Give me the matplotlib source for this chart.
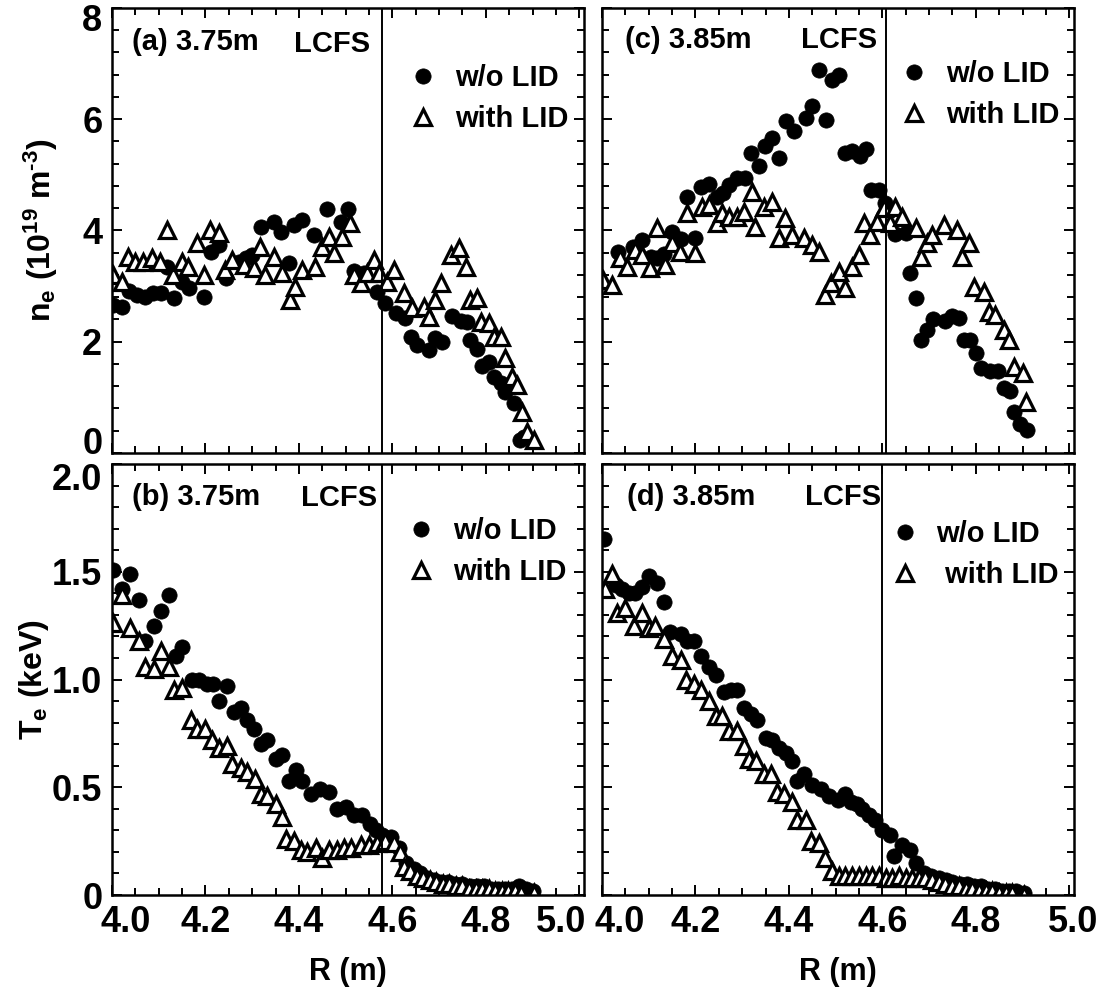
import numpy as np
import matplotlib.pyplot as plt
from matplotlib.lines import Line2D
from matplotlib.transforms import ScaledTranslation

plt.rcParams['font.family'] = ['Liberation Sans', 'DejaVu Sans']
plt.rcParams['font.weight'] = 'bold'
plt.rcParams['axes.labelweight'] = 'bold'
plt.rcParams['mathtext.fontset'] = 'custom'
plt.rcParams['mathtext.rm'] = 'Liberation Sans:bold'
plt.rcParams['mathtext.it'] = 'Liberation Sans:bold'
plt.rcParams['mathtext.bf'] = 'Liberation Sans:bold'
plt.rcParams['mathtext.default'] = 'bf'

# ---- (a) ne, Rax = 3.75 m ----
a_wo_r = [4.003, 4.021, 4.036, 4.054, 4.071, 4.088, 4.104, 4.118, 4.132, 4.150, 4.164, 4.196,
          4.211, 4.229, 4.243, 4.272, 4.286, 4.300, 4.318, 4.347, 4.361, 4.379, 4.389, 4.407,
          4.432, 4.461, 4.489, 4.505, 4.517, 4.539, 4.567, 4.585, 4.608, 4.627, 4.640, 4.653,
          4.678, 4.692, 4.707, 4.728, 4.746, 4.760, 4.767, 4.782, 4.792, 4.807, 4.818, 4.832,
          4.842, 4.860, 4.872, 4.882]
a_wo_ne = [2.66, 2.63, 2.92, 2.84, 2.81, 2.87, 2.87, 3.35, 2.78, 3.08, 2.96, 2.81,
           3.62, 3.74, 3.15, 3.43, 3.50, 3.56, 4.07, 4.16, 3.98, 3.41, 4.10, 4.18,
           3.92, 4.38, 4.16, 4.38, 3.27, 3.23, 2.90, 2.69, 2.51, 2.42, 2.08, 1.94,
           1.85, 2.06, 2.00, 2.46, 2.38, 2.36, 2.03, 1.87, 1.56, 1.64, 1.37, 1.25,
           1.10, 0.89, 0.24, 0.29]
a_lid_r = [4.003, 4.021, 4.035, 4.050, 4.067, 4.085, 4.103, 4.117, 4.131, 4.149, 4.163, 4.181,
           4.196, 4.210, 4.228, 4.242, 4.256, 4.282, 4.303, 4.317, 4.328, 4.346, 4.364, 4.381,
           4.392, 4.407, 4.435, 4.450, 4.464, 4.475, 4.492, 4.510, 4.517, 4.532, 4.546, 4.560,
           4.571, 4.589, 4.603, 4.625, 4.642, 4.667, 4.678, 4.692, 4.703, 4.725, 4.742, 4.757,
           4.767, 4.782, 4.789, 4.807, 4.818, 4.832, 4.842, 4.856, 4.867, 4.878, 4.889, 4.903]
a_lid_ne = [3.20, 3.08, 3.53, 3.44, 3.44, 3.50, 3.44, 4.01, 3.20, 3.44, 3.35, 3.77,
            3.20, 4.01, 3.95, 3.29, 3.47, 3.38, 3.32, 3.71, 3.20, 3.53, 3.23, 2.75,
            2.99, 3.29, 3.35, 3.71, 3.89, 3.59, 3.89, 4.13, 3.20, 3.05, 3.23, 3.47,
            3.23, 3.08, 3.29, 2.87, 2.60, 2.63, 2.45, 2.75, 3.05, 3.56, 3.68, 3.35,
            2.75, 2.78, 2.36, 2.33, 2.09, 2.09, 1.70, 1.37, 1.22, 0.74, 0.38, 0.23]

# ---- (c) ne, Rax = 3.85 m ----
c_wo_r = [4.035, 4.067, 4.085, 4.104, 4.117, 4.132, 4.150, 4.168, 4.182, 4.199, 4.211, 4.229,
          4.247, 4.258, 4.271, 4.289, 4.306, 4.319, 4.336, 4.349, 4.364, 4.379, 4.393, 4.411,
          4.436, 4.450, 4.464, 4.479, 4.492, 4.508, 4.521, 4.535, 4.553, 4.565, 4.576, 4.592,
          4.605, 4.628, 4.650, 4.660, 4.671, 4.682, 4.695, 4.709, 4.734, 4.750, 4.763, 4.774,
          4.788, 4.800, 4.812, 4.830, 4.847, 4.860, 4.874, 4.882, 4.895, 4.909]
c_wo_ne = [3.62, 3.71, 3.83, 3.52, 3.50, 3.58, 3.98, 3.84, 4.61, 3.86, 4.78, 4.84,
           4.60, 4.68, 4.82, 4.95, 4.95, 5.39, 5.16, 5.52, 5.66, 5.30, 5.96, 5.79,
           6.03, 6.23, 6.89, 5.99, 6.71, 6.80, 5.39, 5.43, 5.34, 5.47, 4.72, 4.73,
           4.50, 3.93, 3.95, 3.23, 2.78, 2.04, 2.22, 2.40, 2.37, 2.46, 2.42, 2.03,
           2.03, 1.80, 1.53, 1.47, 1.47, 1.17, 1.11, 0.74, 0.53, 0.41]
c_lid_r = [4.003, 4.021, 4.039, 4.053, 4.071, 4.085, 4.103, 4.117, 4.135, 4.149, 4.167, 4.181,
           4.199, 4.214, 4.228, 4.246, 4.256, 4.271, 4.289, 4.303, 4.321, 4.328, 4.346, 4.364,
           4.378, 4.392, 4.407, 4.432, 4.450, 4.464, 4.478, 4.489, 4.507, 4.521, 4.535, 4.549,
           4.560, 4.574, 4.589, 4.603, 4.617, 4.628, 4.642, 4.671, 4.682, 4.696, 4.707, 4.732,
           4.760, 4.771, 4.785, 4.796, 4.817, 4.828, 4.842, 4.860, 4.871, 4.882, 4.900, 4.907]
c_lid_ne = [3.11, 3.02, 3.50, 3.35, 3.65, 3.56, 3.32, 4.04, 3.38, 3.77, 3.62, 4.31,
            3.59, 4.43, 4.46, 4.13, 4.31, 4.25, 4.25, 4.34, 4.70, 4.07, 4.43, 4.52,
            3.86, 4.22, 3.92, 3.86, 3.74, 3.62, 2.84, 3.05, 3.26, 2.96, 3.35, 3.56,
            4.13, 3.92, 4.16, 4.40, 4.13, 4.43, 4.25, 4.04, 3.53, 3.77, 3.92, 4.10,
            4.01, 3.53, 3.77, 2.99, 2.90, 2.54, 2.48, 2.21, 2.03, 1.55, 1.43, 0.92]

# ---- (b) Te, Rax = 3.75 m ----
b_wo_r = [4.003, 4.021, 4.039, 4.057, 4.071, 4.089, 4.104, 4.121, 4.136, 4.150, 4.171, 4.186,
          4.204, 4.217, 4.229, 4.247, 4.261, 4.275, 4.289, 4.304, 4.318, 4.332, 4.350, 4.364,
          4.379, 4.393, 4.407, 4.425, 4.445, 4.464, 4.482, 4.500, 4.518, 4.535, 4.553, 4.564,
          4.578, 4.596, 4.614, 4.630, 4.646, 4.660, 4.675, 4.690, 4.705, 4.720, 4.735, 4.750,
          4.765, 4.780, 4.795, 4.810, 4.825, 4.840, 4.855, 4.870, 4.885, 4.900]
b_wo_te = [1.51, 1.42, 1.49, 1.37, 1.18, 1.25, 1.32, 1.39, 1.11, 1.15, 1.00, 1.00,
           0.98, 0.98, 0.90, 0.97, 0.85, 0.87, 0.81, 0.77, 0.70, 0.72, 0.63, 0.65,
           0.53, 0.58, 0.53, 0.47, 0.49, 0.48, 0.40, 0.41, 0.37, 0.37, 0.33, 0.30,
           0.28, 0.27, 0.22, 0.15, 0.12, 0.10, 0.08, 0.07, 0.06, 0.06, 0.05, 0.05,
           0.04, 0.04, 0.04, 0.03, 0.03, 0.03, 0.03, 0.04, 0.03, 0.02]
b_lid_r = [4.003, 4.021, 4.039, 4.057, 4.071, 4.089, 4.104, 4.121, 4.132, 4.150, 4.168, 4.182,
           4.200, 4.214, 4.229, 4.247, 4.257, 4.275, 4.289, 4.307, 4.318, 4.332, 4.350, 4.364,
           4.372, 4.389, 4.404, 4.418, 4.436, 4.450, 4.464, 4.482, 4.497, 4.511, 4.532, 4.550,
           4.567, 4.585, 4.603, 4.617, 4.624, 4.638, 4.652, 4.666, 4.680, 4.694, 4.708, 4.722,
           4.736, 4.750, 4.764, 4.778, 4.792, 4.806, 4.820, 4.834, 4.848, 4.862, 4.876, 4.903]
b_lid_te = [1.26, 1.39, 1.24, 1.18, 1.06, 1.05, 1.13, 1.06, 0.95, 0.96, 0.81, 0.77,
            0.77, 0.72, 0.68, 0.69, 0.61, 0.59, 0.57, 0.54, 0.47, 0.46, 0.42, 0.36,
            0.26, 0.25, 0.21, 0.20, 0.22, 0.17, 0.21, 0.21, 0.22, 0.22, 0.23, 0.23,
            0.24, 0.25, 0.24, 0.20, 0.13, 0.11, 0.09, 0.08, 0.07, 0.06, 0.05, 0.05,
            0.04, 0.04, 0.03, 0.03, 0.03, 0.03, 0.02, 0.02, 0.02, 0.02, 0.01, 0.01]

# ---- (d) Te, Rax = 3.85 m ----
d_wo_r = [4.004, 4.029, 4.043, 4.057, 4.071, 4.086, 4.100, 4.118, 4.132, 4.146, 4.168, 4.182,
          4.196, 4.211, 4.229, 4.243, 4.261, 4.275, 4.289, 4.304, 4.318, 4.332, 4.350, 4.364,
          4.379, 4.393, 4.407, 4.418, 4.432, 4.450, 4.468, 4.486, 4.504, 4.521, 4.532, 4.546,
          4.557, 4.571, 4.585, 4.600, 4.617, 4.625, 4.642, 4.660, 4.671, 4.689, 4.705, 4.721,
          4.736, 4.750, 4.765, 4.780, 4.795, 4.810, 4.825, 4.840, 4.855, 4.870, 4.885, 4.903]
d_wo_te = [1.65, 1.44, 1.42, 1.40, 1.40, 1.43, 1.48, 1.45, 1.36, 1.22, 1.21, 1.18,
           1.18, 1.11, 1.06, 1.02, 0.94, 0.95, 0.95, 0.87, 0.84, 0.81, 0.73, 0.72,
           0.68, 0.66, 0.62, 0.53, 0.56, 0.51, 0.49, 0.46, 0.44, 0.47, 0.43, 0.42,
           0.40, 0.37, 0.35, 0.30, 0.28, 0.18, 0.23, 0.21, 0.15, 0.10, 0.09, 0.08,
           0.07, 0.06, 0.05, 0.05, 0.04, 0.04, 0.03, 0.03, 0.02, 0.02, 0.02, 0.01]
d_lid_r = [4.007, 4.021, 4.032, 4.050, 4.068, 4.086, 4.100, 4.114, 4.132, 4.150, 4.168, 4.179,
           4.196, 4.211, 4.229, 4.243, 4.257, 4.272, 4.289, 4.304, 4.314, 4.329, 4.346, 4.361,
           4.375, 4.389, 4.407, 4.418, 4.436, 4.447, 4.464, 4.478, 4.492, 4.507, 4.521, 4.535,
           4.550, 4.564, 4.578, 4.592, 4.607, 4.621, 4.636, 4.650, 4.664, 4.678, 4.692, 4.707,
           4.721, 4.735, 4.750, 4.764, 4.778, 4.792, 4.807, 4.821, 4.835, 4.850, 4.864, 4.878,
           4.903]
d_lid_te = [1.42, 1.49, 1.31, 1.33, 1.25, 1.31, 1.24, 1.25, 1.19, 1.11, 1.09, 1.00,
            0.98, 0.95, 0.90, 0.83, 0.83, 0.76, 0.76, 0.69, 0.63, 0.62, 0.56, 0.56,
            0.48, 0.47, 0.43, 0.35, 0.35, 0.25, 0.24, 0.17, 0.11, 0.09, 0.09, 0.09,
            0.09, 0.09, 0.09, 0.09, 0.08, 0.08, 0.09, 0.08, 0.08, 0.08, 0.08, 0.07,
            0.06, 0.05, 0.04, 0.04, 0.03, 0.03, 0.02, 0.02, 0.02, 0.01, 0.01, 0.01,
            0.00]

panel_labels = ['(a) 3.75m', '(b) 3.75m', '(c) 3.85m', '(d) 3.85m']
lcfs_r = [4.577, 4.577, 4.607, 4.600]
legend_labels = [('w/o LID', 'with LID'), ('w/o LID', 'with LID'),
                 ('w/o LID', 'with LID'), ('w/o LID', ' with LID')]

W, H = 1106, 996
fig = plt.figure(figsize=(W / 100, H / 100), dpi=100)


def px_axes(x0, y0, x1, y1):
    return fig.add_axes([x0 / W, (H - y1) / H, (x1 - x0) / W, (y1 - y0) / H])


ax_a = px_axes(112, 8, 584, 453)
ax_c = px_axes(602, 8, 1074, 453)
ax_b = px_axes(112, 464, 584, 895)
ax_d = px_axes(602, 464, 1074, 895)
axes = [ax_a, ax_b, ax_c, ax_d]

series = [(a_wo_r, a_wo_ne, a_lid_r, a_lid_ne),
          (b_wo_r, b_wo_te, b_lid_r, b_lid_te),
          (c_wo_r, c_wo_ne, c_lid_r, c_lid_ne),
          (d_wo_r, d_wo_te, d_lid_r, d_lid_te)]

circ_kw = dict(ls='none', marker='o', ms=11, mfc='black', mec='black', mew=0.5)
tri_kw = dict(ls='none', marker='^', ms=12, mfc='white', mec='black', mew=2.3)

# legend / text placement (axes fractions)
leg_anchor = [(0.627, 0.874), (0.623, 0.877), (0.631, 0.883), (0.610, 0.870)]
lab_pos = [(0.042, 0.924), (0.042, 0.923), (0.049, 0.928), (0.053, 0.923)]
lcfs_pos = [(-8, 0.918), (-3, 0.921), (-6, 0.928), (-1, 0.923)]

for i, ax in enumerate(axes):
    r1, v1, r2, v2 = series[i]
    top = i in (0, 2)
    left = i in (0, 1)
    ax.plot(r1, v1, **circ_kw)
    ax.plot(r2, v2, **tri_kw)
    ax.axvline(lcfs_r[i], color='black', lw=1.4)

    ax.set_xlim(4.0, 5.01)
    ax.set_xticks(np.arange(4.0, 5.001, 0.2))
    ax.set_xticks(np.arange(4.0, 5.001, 0.05), minor=True)
    if top:
        ax.set_ylim(0, 8)
        ax.set_yticks([0, 2, 4, 6, 8])
        ax.set_yticklabels(['0', '2', '4', '6', '8'])
        ax.set_yticks(np.arange(0, 8.01, 0.4), minor=True)
    else:
        ax.set_ylim(0, 1.99)
        ax.set_yticks([0, 0.5, 1.0, 1.5, 2.0])
        ax.set_yticklabels(['0', '0.5', '1.0', '1.5', '2.0'])
        ax.set_yticks(np.arange(0, 2.0, 0.1), minor=True)
    ax.set_xticklabels(['4.0', '4.2', '4.4', '4.6', '4.8', '5.0'])
    ax.tick_params(which='both', direction='in', top=True, right=True, width=1.4,
                   labelsize=26, pad=7, labelbottom=not top, labelleft=left)
    ax.tick_params(which='major', length=7)
    ax.tick_params(which='minor', length=5)
    for s in ax.spines.values():
        s.set_linewidth(1.8)

    ax.text(lab_pos[i][0], lab_pos[i][1], panel_labels[i], transform=ax.transAxes,
            fontsize=21, ha='left', va='center')
    ax.annotate('LCFS', xy=(lcfs_r[i], lcfs_pos[i][1]), xycoords=('data', 'axes fraction'),
                xytext=(lcfs_pos[i][0], 0), textcoords='offset points',
                fontsize=21, ha='right', va='center')

    handles = [Line2D([], [], **circ_kw), Line2D([], [], **tri_kw)]
    ax.legend(handles, legend_labels[i], loc='upper left', bbox_to_anchor=leg_anchor[i],
              frameon=False, fontsize=21, handlelength=1.0, handletextpad=0.6,
              labelspacing=0.45, borderpad=0, borderaxespad=0)


def shift(lbl, dx, dy):
    lbl.set_transform(lbl.get_transform() + ScaledTranslation(dx / 72, dy / 72, fig.dpi_scale_trans))


# edge tick labels pulled inwards as in the original plot
xl_b = ax_b.get_xticklabels()
shift(xl_b[0], 10, 0)
shift(xl_b[-1], -13, 0)
xl_d = ax_d.get_xticklabels()
shift(xl_d[0], 13, 0)
shift(xl_d[-1], 3, 0)
yl_a = ax_a.get_yticklabels()
shift(yl_a[0], 0, 9)
shift(yl_a[-1], 0, -7)
yl_b = ax_b.get_yticklabels()
shift(yl_b[-1], 0, -9)

ax_a.set_ylabel('n$_{e}$ (10$^{19}$ m$^{\u2010 3}$)', fontsize=23)
ax_a.yaxis.set_label_coords(-0.11, 0.5)
ax_b.set_ylabel(r'T$_{e}$ (keV)', fontsize=23)
ax_b.yaxis.set_label_coords(-0.13, 0.5)
for ax in (ax_b, ax_d):
    ax.set_xlabel('R (m)', fontsize=22)
    ax.xaxis.set_label_coords(0.5, -0.145)

fig.savefig('out.png', dpi=100)
